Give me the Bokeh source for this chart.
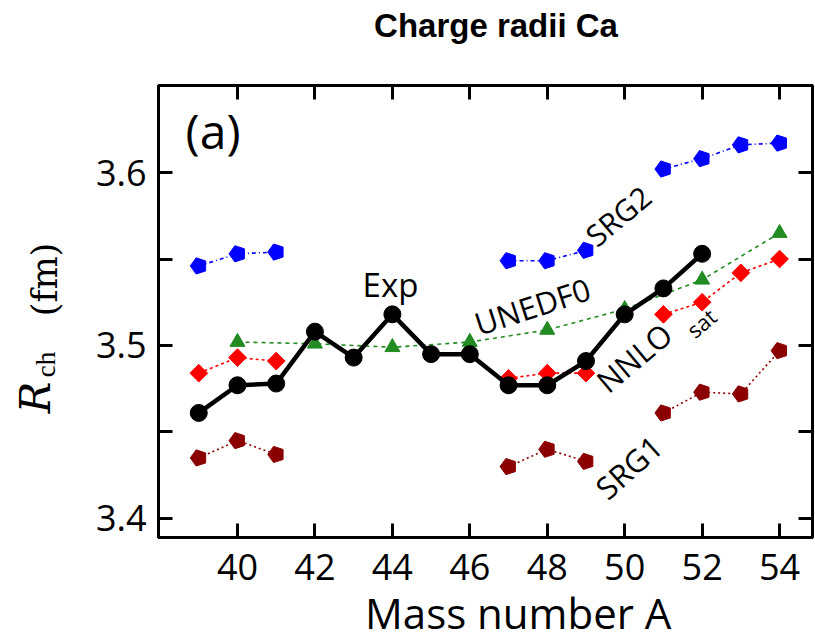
import math
from bokeh.plotting import figure
from bokeh.layouts import row, column
from bokeh.models import (Range1d, FixedTicker, LinearAxis, Label,
                          CustomJSTickFormatter)
from bokeh.core.properties import value
from bokeh.embed import file_html
from bokeh.resources import INLINE

nan = float("nan")

# ---------------- data ----------------
mass = [39, 40, 41, 42, 43, 44, 45, 46, 47, 48, 49, 50, 51, 52, 53, 54]
exp_mass = [39, 40, 41, 42, 43, 44, 45, 46, 47, 48, 49, 50, 51, 52]
exp_r = [3.461, 3.477, 3.478, 3.508, 3.493, 3.518, 3.495, 3.495, 3.477, 3.477,
         3.491, 3.518, 3.533, 3.553]
srg2 = [3.546, 3.553, 3.554, nan, nan, nan, nan, nan, 3.549, 3.549, 3.555, nan,
        3.602, 3.608, 3.616, 3.617]
srg1 = [3.435, 3.445, 3.437, nan, nan, nan, nan, nan, 3.430, 3.440, 3.433, nan,
        3.461, 3.473, 3.472, 3.497]
nnlo = [3.484, 3.493, 3.491, nan, nan, nan, nan, nan, 3.481, 3.484, 3.484, nan,
        3.518, 3.525, 3.542, 3.550]
unedf_mass = [40, 42, 44, 46, 48, 50, 52, 54]
unedf = [3.502, 3.501, 3.499, 3.502, 3.509, 3.521, 3.538, 3.565]

x_ticks = [40, 42, 44, 46, 48, 50, 52, 54]
y_ticks = [3.4, 3.5, 3.6]
y_minor = [3.45, 3.55]

TICK_FONT = "Open Sans"
NB = "\u00a0"
TOP_H = 50

# ---------------- title strip ----------------
t = figure(width=815, height=TOP_H, output_backend="svg", toolbar_location=None,
           x_range=Range1d(0, 815), y_range=Range1d(0, TOP_H), min_border=0,
           x_axis_location=None, y_axis_location=None, title=None)
t.frame_align = False
t.xgrid.visible = False
t.ygrid.visible = False
t.outline_line_color = None
t.text(x=[495.5], y=[TOP_H - 25], text=["Charge radii Ca"],
       text_font=value("Liberation Sans"), text_font_style="bold",
       text_font_size="33px", text_align="center", text_baseline="middle",
       text_color="black")

# ---------------- main figure ----------------
p = figure(width=745, height=644 - TOP_H, output_backend="svg",
           toolbar_location=None, title=None,
           x_range=Range1d(37.96, 54.85), y_range=Range1d(3.389, 3.6503),
           min_border_left=88, min_border_right=3, min_border_top=85 - TOP_H,
           min_border_bottom=107)
p.frame_align = False
p.background_fill_color = "white"
p.border_fill_color = "white"
p.xgrid.visible = False
p.ygrid.visible = False
p.outline_line_color = "black"
p.outline_line_width = 3


def style_axis(ax, labels=True):
    ax.axis_line_width = 3
    ax.axis_line_color = "black"
    ax.major_tick_in = 14
    ax.major_tick_out = 0
    ax.major_tick_line_width = 3
    ax.minor_tick_in = 14
    ax.minor_tick_out = 0
    ax.minor_tick_line_width = 3
    if labels:
        ax.major_label_text_font = TICK_FONT
        ax.major_label_text_font_size = "36px"
        ax.major_label_text_color = "black"
    else:
        ax.formatter = CustomJSTickFormatter(code="return ''")
        ax.major_label_standoff = 0
        ax.major_label_text_font_size = "1px"


p.xaxis.ticker = FixedTicker(ticks=x_ticks)
p.yaxis.ticker = FixedTicker(ticks=y_ticks, minor_ticks=y_minor)
style_axis(p.xaxis[0])
style_axis(p.yaxis[0])
p.xaxis.major_label_standoff = 16
p.yaxis.major_label_standoff = 12
p.xaxis.axis_label = NB * 6 + "Mass number A"
p.xaxis.axis_label_text_font = TICK_FONT
p.xaxis.axis_label_text_font_size = "42px"
p.xaxis.axis_label_text_font_style = "normal"
p.xaxis.axis_label_text_color = "black"
p.xaxis.axis_label_standoff = 1

ax_r = LinearAxis(ticker=FixedTicker(ticks=y_ticks, minor_ticks=y_minor))
style_axis(ax_r, labels=False)
p.add_layout(ax_r, "right")
ax_t = LinearAxis(ticker=FixedTicker(ticks=x_ticks))
style_axis(ax_t, labels=False)
p.add_layout(ax_t, "above")

# ---------------- series ----------------
BLUE = "#0000ff"
RED = "#ff0000"
GREEN = "#228b22"
DRED = "#8b0000"

p.line(mass, srg2, line_color=BLUE, line_width=1.6, line_dash="4 3 1 3")
p.ngon(x=mass, y=srg2, radius=8.5, radius_units="screen", n=5, angle=math.pi / 2,
       fill_color=BLUE, line_color=BLUE)

p.line(mass, srg1, line_color=DRED, line_width=1.6, line_dash="2 3")
p.ngon(x=mass, y=srg1, radius=8.5, radius_units="screen", n=5, angle=math.pi / 2,
       fill_color=DRED, line_color=DRED)

p.line(unedf_mass, unedf, line_color=GREEN, line_width=1.6, line_dash="4 4")
p.scatter(unedf_mass, unedf, marker="triangle", size=15, fill_color=GREEN,
          line_color=GREEN)

p.line(mass, nnlo, line_color=RED, line_width=1.6, line_dash="3 3")
p.scatter(mass, nnlo, marker="square", size=12.5, angle=math.pi / 4,
          fill_color=RED, line_color=RED)

p.line(exp_mass, exp_r, line_color="black", line_width=4.5)
p.scatter(exp_mass, exp_r, marker="circle", size=17, fill_color="black",
          line_color="black")

# ---------------- in-plot texts ----------------
def lab(x, y, txt, size, angle=0.0, font=TICK_FONT):
    p.add_layout(Label(x=x, y=y, text=txt, angle=angle, text_font=font,
                       text_font_size=size, text_align="left",
                       text_baseline="alphabetic", text_color="black"))

deg = math.pi / 180
lab(38.66, 3.6245, "(a)", "48px")
lab(43.23, 3.5353, "Exp", "33px")
lab(46.15, 3.5121, "UNEDF0", "31px", angle=18 * deg)
lab(49.10, 3.5612, "SRG2", "30px", angle=40 * deg)
lab(49.38, 3.4769, "NNLO", "31px", angle=40 * deg)
lab(51.67, 3.5075, "sat", "22px", angle=40 * deg)
lab(49.37, 3.4150, "SRG1", "31px", angle=42 * deg)

# ---------------- y-axis label panel ----------------
QH = 644 - TOP_H
q = figure(width=70, height=QH, output_backend="svg", toolbar_location=None,
           x_range=Range1d(0, 70), y_range=Range1d(0, QH), min_border=0,
           x_axis_location=None, y_axis_location=None, title=None)
q.frame_align = False
q.xgrid.visible = False
q.ygrid.visible = False
q.outline_line_color = None
q.background_fill_color = "white"
q.border_fill_color = "white"


def ylab(cx, cy, txt, size, font, style="normal"):
    q.text(x=[cx], y=[644 - cy], text=[txt], angle=math.pi / 2,
           text_font=value(font), text_font_style=style, text_font_size=size,
           text_baseline="middle", text_align="center", text_color="black")


ylab(35, 397, "R", "42px", "DejaVu Serif", "italic")
ylab(45, 364, "ch", "27px", "Liberation Serif")
ylab(44, 279, "(fm)", "35px", "DejaVu Serif")

layout = column(t, row(q, p, spacing=0), spacing=0)
open("out.html", "w").write(file_html(layout, INLINE))
